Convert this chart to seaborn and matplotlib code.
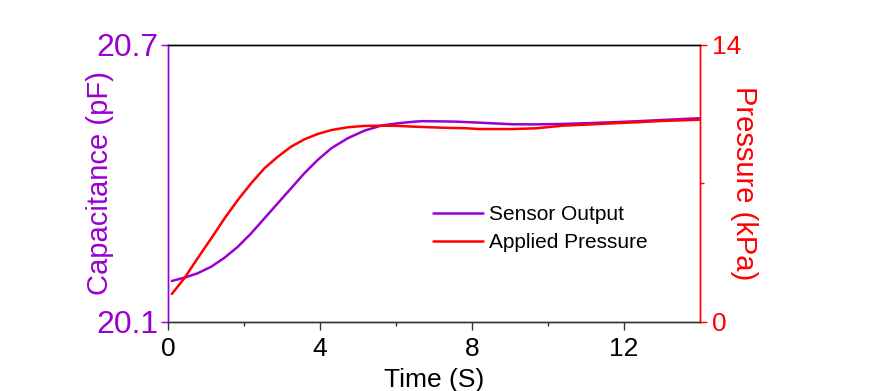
import matplotlib
matplotlib.use("Agg")
import matplotlib.pyplot as plt
import seaborn as sns
import pandas as pd

# Sensor output (capacitance, pF)
t_sensor = [0.10, 0.43, 0.78, 1.14, 1.49, 1.84, 2.19, 2.54, 2.89, 3.24, 3.59, 3.94,
            4.30, 4.73, 5.17, 5.61, 6.05, 6.49, 6.70, 7.20, 7.59, 8.20, 9.07, 9.70,
            10.38, 11.00, 11.70, 12.40, 13.01, 13.98]
cap = [20.1888, 20.1960, 20.2055, 20.2198, 20.2393, 20.2631, 20.2921, 20.3246, 20.3571,
       20.3896, 20.4221, 20.4509, 20.4763, 20.4979, 20.5144, 20.5252, 20.5304, 20.5339,
       20.5350, 20.5345, 20.5339, 20.5317, 20.5282, 20.5280, 20.5289, 20.5305, 20.5326,
       20.5350, 20.5375, 20.5412]

# Applied pressure (kPa)
t_press = [0.10, 0.43, 0.78, 1.14, 1.49, 1.84, 2.19, 2.54, 2.89, 3.24, 3.59, 3.94,
           4.30, 4.73, 5.17, 5.61, 6.05, 6.49, 7.20, 7.86, 8.20, 9.07, 9.70, 10.38,
           11.18, 11.70, 12.40, 13.01, 13.98]
press = [1.415, 2.21, 3.22, 4.23, 5.24, 6.17, 7.01, 7.77, 8.35, 8.86, 9.23, 9.50,
         9.70, 9.84, 9.91, 9.92, 9.91, 9.87, 9.82, 9.79, 9.75, 9.75, 9.79, 9.92,
         9.99, 10.04, 10.10, 10.16, 10.22]

purple = "#9A00D0"
red = "#FF0000"

sns.set_theme(style="white")
plt.rcParams['font.family'] = ['Liberation Sans', 'DejaVu Sans']
plt.rcParams['text.color'] = 'black'

fig = plt.figure(figsize=(8.96, 3.91), dpi=100)
ax = fig.add_axes([0.1875, 0.1765, 0.5935, 0.7085])
ax2 = ax.twinx()

df1 = pd.DataFrame({"t": t_sensor, "c": cap})
df2 = pd.DataFrame({"t": t_press, "p": press})
sns.lineplot(data=df1, x="t", y="c", ax=ax, color=purple, lw=1.8, label="Sensor Output", legend=False)
sns.lineplot(data=df2, x="t", y="p", ax=ax2, color=red, lw=1.8, label="Applied Pressure", legend=False)

ax.set_xlim(0, 14)
ax.set_ylim(20.1, 20.7)
ax2.set_ylim(0, 14)

ax.set_xticks([0, 4, 8, 12])
ax.set_xticks([2, 6, 10], minor=True)
ax.set_yticks([20.1, 20.7])
ax.set_yticklabels(["20.1", "20.7"])
ax2.set_yticks([0, 14])
ax2.set_yticks([7], minor=True)

ax.tick_params(axis='x', which='major', direction='out', length=6, width=1, colors='#333333',
               labelsize=19, labelcolor='black', pad=5, bottom=True)
ax.tick_params(axis='x', which='minor', direction='out', length=3, width=1, colors='#333333', bottom=True)
ax.tick_params(axis='y', which='major', direction='out', length=5, width=1, colors=purple,
               labelsize=23, labelcolor=purple, pad=2, left=True)
ax2.tick_params(axis='y', which='major', direction='out', length=5, width=1, colors=red,
                labelsize=19, labelcolor=red, pad=4, right=True)
ax2.tick_params(axis='y', which='minor', direction='out', length=3, width=1, colors=red, right=True)

for a in (ax, ax2):
    a.spines['top'].set_color('black')
    a.spines['bottom'].set_color('#333333')
    a.spines['left'].set_color(purple)
    a.spines['right'].set_color(red)
    for s in a.spines.values():
        s.set_linewidth(1.0)

ax.set_xlabel("Time (S)", fontsize=19, color='black', labelpad=5)
ax.set_ylabel("Capacitance (pF)", fontsize=21, color=purple, labelpad=-13)
ax2.set_ylabel("Pressure (kPa)", fontsize=21, color=red, rotation=270, labelpad=12)

h1, l1 = ax.get_legend_handles_labels()
h2, l2 = ax2.get_legend_handles_labels()
ax2.legend(h1 + h2, l1 + l2, loc='upper left', bbox_to_anchor=(0.4625, 0.49), frameon=False,
           fontsize=15, handlelength=2.4, handletextpad=0.3, labelspacing=0.45)

fig.savefig("out.png", dpi=100)
